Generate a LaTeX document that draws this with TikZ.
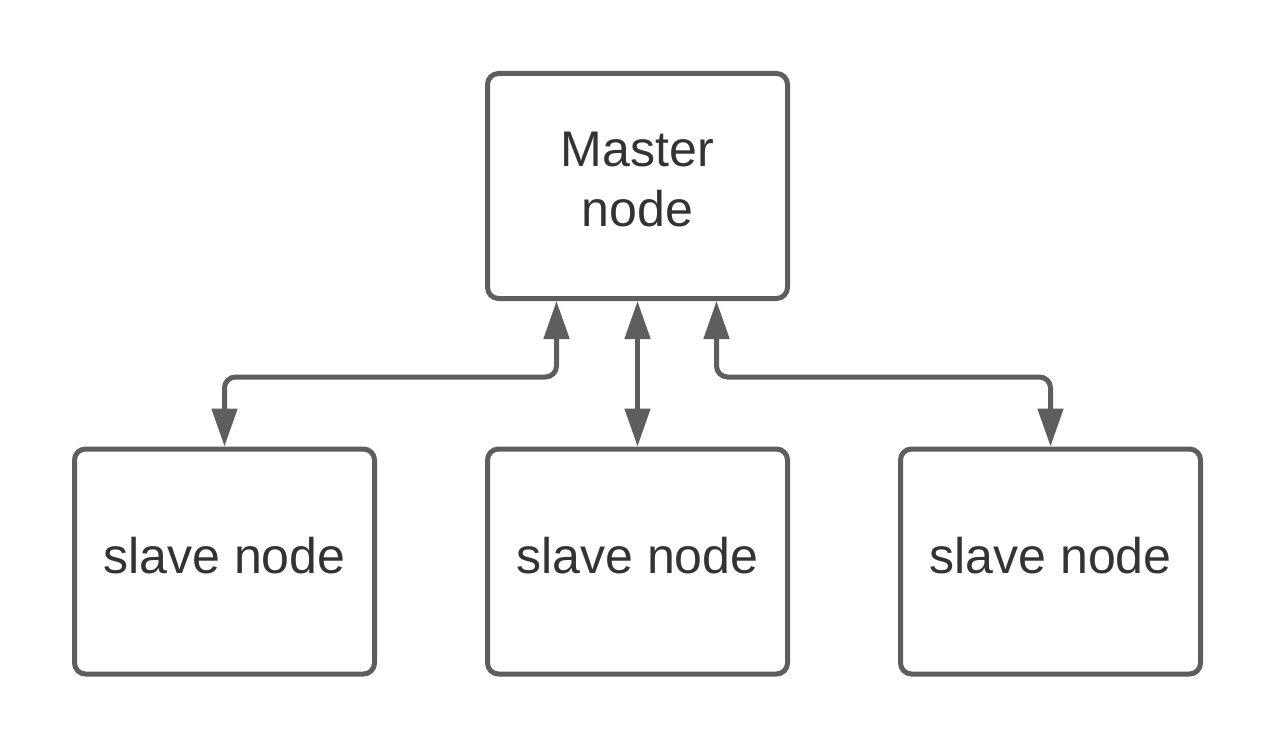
\documentclass[tikz,border=0pt]{standalone}
\usepackage{fontspec}
\setmainfont{Liberation Sans}
\usepackage{xcolor}
\usetikzlibrary{arrows.meta,positioning}
\definecolor{boxgray}{HTML}{5E5E5E}
\definecolor{textgray}{HTML}{333333}

\begin{document}
\begin{tikzpicture}[>={Triangle[length=0.76cm,width=0.5cm]},
  nodebox/.style={draw=boxgray,line width=0.1cm,rounded corners=0.22cm,minimum width=6cm,minimum height=4.5cm,align=center,text=textgray,text depth=0.26cm,font=\fontsize{28.5}{34}\selectfont},
  link/.style={draw=boxgray,line width=0.1cm,rounded corners=0.22cm}]
  \useasboundingbox (0,0) rectangle (25.5,15);
  \node[nodebox] (master) at (12.75,11.28) {Master\\node};
  \node[nodebox,below=2.91cm of master] (slave2) {slave node};
  \node[nodebox,left=2.16cm of slave2] (slave1) {slave node};
  \node[nodebox,right=2.16cm of slave2] (slave3) {slave node};
  \draw[link,<->] ([xshift=-1.62cm]master.south) -- ++(0,-1.52) -| (slave1.north);
  \draw[link,<->] (master.south) -- (slave2.north);
  \draw[link,<->] ([xshift=1.58cm]master.south) -- ++(0,-1.52) -| (slave3.north);
\end{tikzpicture}
\end{document}
